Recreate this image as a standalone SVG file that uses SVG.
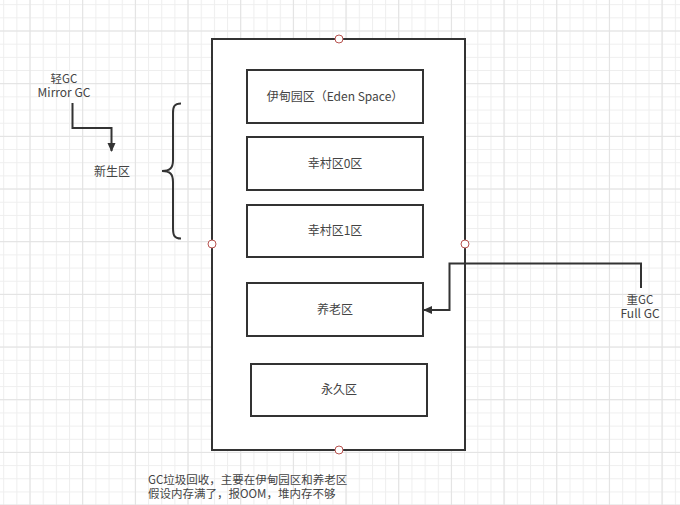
<svg xmlns="http://www.w3.org/2000/svg" width="680" height="505" viewBox="0 0 680 505">
<style>
.box{fill:#fff;stroke:#333;stroke-width:2}
.pt{fill:#fff;stroke:#b85450;stroke-width:1}
.t{font-family:"Noto Sans CJK SC","Microsoft YaHei",sans-serif;font-size:12px;fill:#444}
.s{font-size:11.5px}
.c{text-anchor:middle}
.ln{fill:none;stroke:#333;stroke-width:2}
</style>
<defs>
<pattern id="minor" x="3.2" y="4.2" width="13.17" height="13.17" patternUnits="userSpaceOnUse">
<path d="M0 0.5H13.17M0.5 0V13.17" fill="none" stroke="#eeeeee" stroke-width="1"/>
</pattern>
<pattern id="major" x="29.5" y="30.5" width="52.67" height="52.67" patternUnits="userSpaceOnUse">
<path d="M0 0.5H52.67M0.5 0V52.67" fill="none" stroke="#e2e2e2" stroke-width="1"/>
</pattern>
<marker id="arr" markerWidth="10" markerHeight="10" refX="8" refY="5" orient="auto" markerUnits="userSpaceOnUse">
<path d="M0 1L9 5L0 9Z" fill="#333"/>
</marker>
</defs>
<rect width="680" height="505" fill="#fff"/>
<rect width="680" height="505" fill="url(#minor)"/>
<rect width="680" height="505" fill="url(#major)"/>

<g id="heap">
<rect class="box" x="212" y="39" width="253" height="411"/>
<circle class="pt" cx="339" cy="39" r="4"/>
<circle class="pt" cx="212" cy="244" r="4"/>
<circle class="pt" cx="465" cy="244" r="4"/>
<circle class="pt" cx="339" cy="450" r="4"/>
</g>
<g id="eden">
<rect class="box" x="247" y="70" width="176" height="53"/>
<text class="t c" x="335" y="101">伊甸园区（Eden Space）</text>
</g>
<g id="survivor0">
<rect class="box" x="247" y="137" width="176" height="53"/>
<text class="t c" x="335" y="168">幸村区0区</text>
</g>
<g id="survivor1">
<rect class="box" x="247" y="205" width="176" height="52"/>
<text class="t c" x="335" y="235">幸村区1区</text>
</g>
<g id="old">
<rect class="box" x="247" y="283" width="176" height="53"/>
<text class="t c" x="335" y="314">养老区</text>
</g>
<g id="perm">
<rect class="box" x="251" y="364" width="176" height="52"/>
<text class="t c" x="339" y="394">永久区</text>
</g>
<g id="minorgc">
<text class="t c s" x="64" y="83">轻GC</text>
<text class="t c" x="64" y="97">Mirror GC</text>
</g>
<g id="young">
<text class="t c" x="112" y="176">新生区</text>
<path class="ln" d="M181 103.5C174 103.5 173 107 173 113V160C173 168 170 171 162 171C170 171 173 174 173 182V228C173 235 174 238.5 181 238.5"/>
</g>
<g id="fullgc">
<text class="t c s" x="640" y="304">重GC</text>
<text class="t c" x="640" y="318">Full GC</text>
</g>
<g id="note">
<text class="t s" x="148" y="484">GC垃圾回收，主要在伊甸园区和养老区</text>
<text class="t s" x="148" y="497.5">假设内存满了，报OOM，堆内存不够</text>
</g>
<g id="connectors">
<path class="ln" d="M72.5 103V128H111.5V151" marker-end="url(#arr)"/>
<path class="ln" d="M641 288V263.5H449.5V310H424" marker-end="url(#arr)"/>
</g>
</svg>
